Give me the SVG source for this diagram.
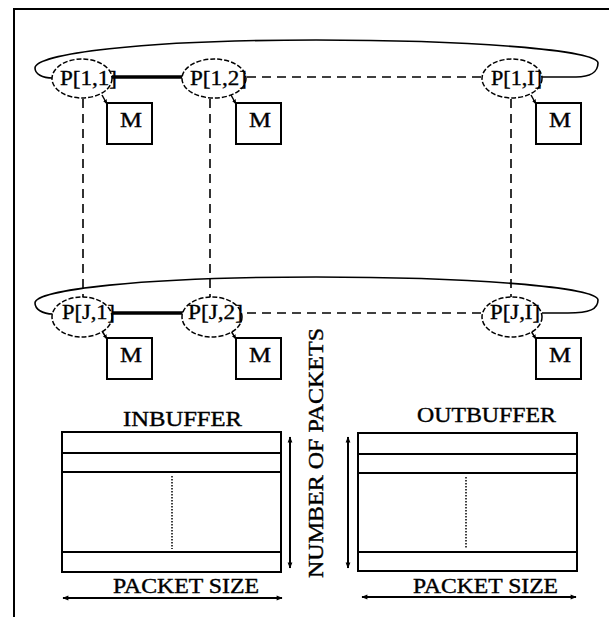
<svg xmlns="http://www.w3.org/2000/svg" width="609" height="618" viewBox="0 0 609 618">
<style>
  .frame{fill:none;stroke:#000;stroke-width:2}
  .ring{fill:none;stroke:#000;stroke-width:1.6}
  .node{fill:#fff;stroke:#000;stroke-width:1.5;stroke-dasharray:5 2}
  .mbox{fill:#fff;stroke:#000;stroke-width:2}
  .lbl{font-family:"Liberation Serif",serif;font-size:20px;fill:#000;stroke:#000;stroke-width:0.35}
  .cap{font-family:"Liberation Serif",serif;font-size:21px;fill:#000;stroke:#000;stroke-width:0.4}
  .thick{stroke:#000;stroke-width:3.5}
  .dash{stroke:#000;stroke-width:1.6;stroke-dasharray:9 6;fill:none}
  .solid{stroke:#000;stroke-width:2;fill:none}
  .buf{fill:#fff;stroke:#000;stroke-width:2}
  .dot{stroke:#000;stroke-width:1.5;stroke-dasharray:1.5 1.5}
  .arr{stroke:#000;stroke-width:2;marker-start:url(#ah);marker-end:url(#ah)}
  .tick{stroke:#000;stroke-width:1.5;marker-end:url(#sm)}
</style>
<defs>
  <marker id="ah" viewBox="0 0 10 10" refX="9" refY="5" markerWidth="7" markerHeight="6" orient="auto-start-reverse" markerUnits="userSpaceOnUse">
    <path d="M0,1 L10,5 L0,9 Z" fill="#000"/>
  </marker>
  <marker id="sm" viewBox="0 0 10 10" refX="9" refY="5" markerWidth="5" markerHeight="5" orient="auto" markerUnits="userSpaceOnUse">
    <path d="M0,1 L10,5 L0,9 Z" fill="#000"/>
  </marker>
</defs>

<path class="frame" d="M14,617 L14,9 L609,9"/>

<g id="connectors">
  <path class="ring" d="M53,78 C42,78 35,74 35,68 C35,54 140,40 316,40 C470,40 598,50 598,63 C598,72 590,77 576,77 L542,77"/>
  <path class="ring" d="M53,314 C42,314 35,309 35,303 C35,290 140,277 316,277 C470,277 598,287 598,300 C598,309 590,313 568,313 L542,313"/>
  <line class="thick" x1="112" y1="77" x2="183" y2="77"/>
  <line class="dash" x1="247" y1="77" x2="482" y2="77"/>
  <line class="thick" x1="112" y1="313" x2="183" y2="313"/>
  <line class="dash" x1="247" y1="313" x2="482" y2="313"/>
  <line class="dash" x1="83" y1="99" x2="83" y2="297"/>
  <line class="dash" x1="210" y1="99" x2="210" y2="297"/>
  <line class="dash" x1="511" y1="99" x2="511" y2="297"/>
  <line class="tick" x1="102" y1="95" x2="107" y2="104"/>
  <line class="tick" x1="231" y1="95" x2="236" y2="104"/>
  <line class="tick" x1="531" y1="95" x2="536" y2="104"/>
  <line class="tick" x1="102" y1="331" x2="107" y2="339"/>
  <line class="tick" x1="231" y1="331" x2="236" y2="339"/>
  <line class="tick" x1="531" y1="331" x2="536" y2="339"/>
</g>

<g id="P11"><ellipse class="node" cx="82" cy="78.5" rx="30" ry="19.5"/><text class="lbl" x="60" y="85" textLength="57" lengthAdjust="spacingAndGlyphs">P[1,1]</text></g>
<g id="P12"><ellipse class="node" cx="214" cy="78.5" rx="32" ry="19.5"/><text class="lbl" x="190" y="85" textLength="57" lengthAdjust="spacingAndGlyphs">P[1,2]</text></g>
<g id="P1I"><ellipse class="node" cx="512" cy="78.5" rx="30" ry="19.5"/><text class="lbl" x="491" y="85" textLength="51" lengthAdjust="spacingAndGlyphs">P[1,I]</text></g>
<g id="PJ1"><ellipse class="node" cx="82" cy="317" rx="30" ry="20"/><text class="lbl" x="62" y="319" textLength="53" lengthAdjust="spacingAndGlyphs">P[J,1]</text></g>
<g id="PJ2"><ellipse class="node" cx="212" cy="317" rx="30" ry="20"/><text class="lbl" x="188" y="319" textLength="55" lengthAdjust="spacingAndGlyphs">P[J,2]</text></g>
<g id="PJI"><ellipse class="node" cx="512" cy="317" rx="30" ry="20"/><text class="lbl" x="490" y="319" textLength="50" lengthAdjust="spacingAndGlyphs">P[J,I]</text></g>

<g id="M11"><rect class="mbox" x="107" y="103" width="45" height="41"/><text class="lbl" x="120" y="127" textLength="22" lengthAdjust="spacingAndGlyphs">M</text></g>
<g id="M12"><rect class="mbox" x="236" y="103" width="45" height="41"/><text class="lbl" x="249" y="127" textLength="22" lengthAdjust="spacingAndGlyphs">M</text></g>
<g id="M1I"><rect class="mbox" x="536" y="103" width="45" height="41"/><text class="lbl" x="549" y="127" textLength="22" lengthAdjust="spacingAndGlyphs">M</text></g>
<g id="MJ1"><rect class="mbox" x="107" y="338" width="45" height="41"/><text class="lbl" x="120" y="362" textLength="22" lengthAdjust="spacingAndGlyphs">M</text></g>
<g id="MJ2"><rect class="mbox" x="236" y="338" width="45" height="41"/><text class="lbl" x="249" y="362" textLength="22" lengthAdjust="spacingAndGlyphs">M</text></g>
<g id="MJI"><rect class="mbox" x="536" y="338" width="45" height="41"/><text class="lbl" x="549" y="362" textLength="22" lengthAdjust="spacingAndGlyphs">M</text></g>

<g id="inbuffer">
  <text class="cap" x="123" y="426" textLength="119" lengthAdjust="spacingAndGlyphs">INBUFFER</text>
  <rect class="buf" x="62" y="432" width="219" height="140"/>
  <line class="solid" x1="62" y1="453" x2="281" y2="453"/>
  <line class="solid" x1="62" y1="472" x2="281" y2="472"/>
  <line class="solid" x1="62" y1="552" x2="281" y2="552"/>
  <line class="dot" x1="172" y1="476" x2="172" y2="549"/>
  <line class="arr" x1="290" y1="437" x2="290" y2="568"/>
  <text class="cap" x="113" y="593" textLength="146" lengthAdjust="spacingAndGlyphs">PACKET SIZE</text>
  <line class="arr" x1="63" y1="598" x2="282" y2="598"/>
</g>

<text class="cap" transform="translate(323,578) rotate(-90)" x="0" y="0" textLength="250" lengthAdjust="spacingAndGlyphs">NUMBER OF PACKETS</text>

<g id="outbuffer">
  <text class="cap" x="417" y="422" textLength="139" lengthAdjust="spacingAndGlyphs">OUTBUFFER</text>
  <rect class="buf" x="358" y="433" width="219" height="138"/>
  <line class="solid" x1="358" y1="454" x2="577" y2="454"/>
  <line class="solid" x1="358" y1="473" x2="577" y2="473"/>
  <line class="solid" x1="358" y1="552" x2="577" y2="552"/>
  <line class="dot" x1="466" y1="477" x2="466" y2="549"/>
  <line class="arr" x1="348" y1="437" x2="348" y2="568"/>
  <text class="cap" x="413" y="593" textLength="145" lengthAdjust="spacingAndGlyphs">PACKET SIZE</text>
  <line class="arr" x1="362" y1="597" x2="576" y2="597"/>
</g>
</svg>
